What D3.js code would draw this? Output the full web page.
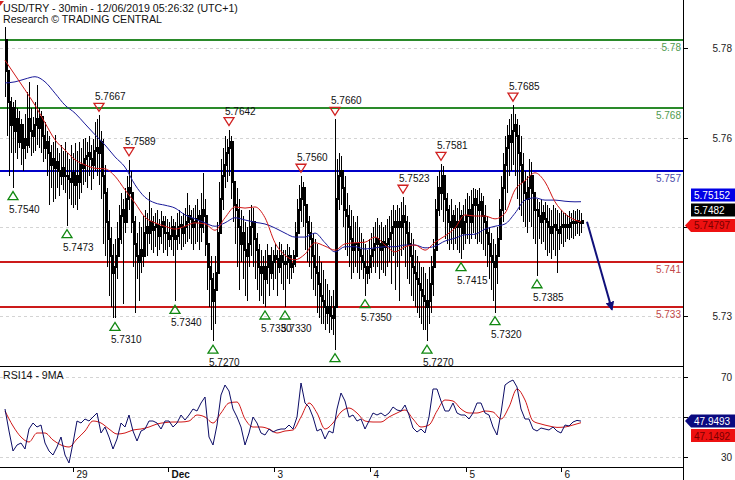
<!DOCTYPE html>
<html><head><meta charset="utf-8">
<script src="https://cdn.jsdelivr.net/npm/d3@7"></script>
<style>
body{margin:0;background:#fff}
svg{display:block}
text{font-family:"Liberation Sans",Arial,sans-serif}
</style>
</head><body>
<svg id="c" width="735" height="480"></svg>
<script>
// ---------------- DATA ----------------
const title = "USD/TRY - 30min - 12/06/2019 05:26:32 (UTC+1)";
const subtitle = "Research \u00A9 TRADING CENTRAL";
const rsiTitle = "RSI14 - 9MA";

const opens = [
5.7800,5.7745,5.7690,5.7650,5.7680, 5.7640,5.7660,5.7620,5.7650,5.7610,
5.7625,5.7615,5.7660,5.7640,5.7630, 5.7650,5.7660,5.7645,5.7665,5.7630,
5.7610,5.7620,5.7600,5.7580,5.7590, 5.7575,5.7585,5.7570,5.7560,5.7575,
5.7560,5.7560,5.7555,5.7550,5.7565, 5.7545,5.7560,5.7550,5.7580,5.7575,
5.7590,5.7595,5.7600,5.7590,5.7580, 5.7605,5.7610,5.7600,5.7620,5.7560,
5.7530,5.7480,5.7450,5.7420,5.7390, 5.7400,5.7420,5.7450,5.7490,5.7500,
5.7480,5.7520,5.7540,5.7530,5.7480, 5.7440,5.7420,5.7410,5.7430,5.7420,
5.7460,5.7470,5.7460,5.7480,5.7465, 5.7470,5.7475,5.7455,5.7470,5.7480,
5.7460,5.7460,5.7450,5.7455,5.7470, 5.7450,5.7455,5.7470,5.7475,5.7460,
5.7470,5.7480,5.7490,5.7485,5.7470, 5.7480,5.7485,5.7490,5.7470,5.7500,
5.7490,5.7440,5.7400,5.7380,5.7340, 5.7360,5.7390,5.7460,5.7520,5.7560,
5.7580,5.7600,5.7610,5.7620,5.7550, 5.7510,5.7500,5.7470,5.7440,5.7460,
5.7430,5.7420,5.7440,5.7470,5.7480, 5.7450,5.7430,5.7400,5.7390,5.7400,
5.7380,5.7400,5.7420,5.7390,5.7410, 5.7420,5.7415,5.7400,5.7420,5.7410,
5.7405,5.7410,5.7420,5.7400,5.7405, 5.7420,5.7460,5.7500,5.7520,5.7540,
5.7510,5.7480,5.7460,5.7450,5.7420, 5.7400,5.7390,5.7370,5.7350,5.7340,
5.7330,5.7320,5.7330,5.7315,5.7310, 5.7330,5.7520,5.7560,5.7570,5.7540,
5.7500,5.7490,5.7470,5.7450,5.7430, 5.7440,5.7440,5.7430,5.7420,5.7410,
5.7400,5.7390,5.7400,5.7420,5.7430, 5.7440,5.7450,5.7440,5.7430,5.7445,
5.7435,5.7440,5.7450,5.7460,5.7470, 5.7480,5.7470,5.7480,5.7470,5.7490,
5.7480,5.7460,5.7440,5.7420,5.7400, 5.7390,5.7380,5.7370,5.7360,5.7350,
5.7340,5.7330,5.7340,5.7370,5.7400, 5.7430,5.7500,5.7540,5.7530,5.7560,
5.7520,5.7500,5.7480,5.7470,5.7490, 5.7470,5.7480,5.7470,5.7490,5.7460,
5.7480,5.7490,5.7500,5.7480,5.7510, 5.7520,5.7510,5.7500,5.7515,5.7490,
5.7480,5.7460,5.7440,5.7420,5.7410, 5.7400,5.7420,5.7450,5.7500,5.7540,
5.7580,5.7610,5.7630,5.7620,5.7640, 5.7650,5.7630,5.7600,5.7580,5.7550,
5.7530,5.7520,5.7540,5.7560,5.7530, 5.7500,5.7500,5.7490,5.7480,5.7495,
5.7485,5.7480,5.7470,5.7460,5.7470, 5.7475,5.7465,5.7460,5.7470,5.7475,
5.7470,5.7475,5.7470,5.7478,5.7480, 5.7478,5.7482,5.7480,5.7478];

const highs = [
5.7823,5.7790,5.7720,5.7700,5.7690, 5.7694,5.7680,5.7675,5.7660,5.7650,
5.7670,5.7708,5.7726,5.7680,5.7665, 5.7690,5.7720,5.7680,5.7675,5.7660,
5.7655,5.7640,5.7630,5.7615,5.7620, 5.7632,5.7610,5.7600,5.7615,5.7605,
5.7620,5.7600,5.7590,5.7615,5.7600, 5.7618,5.7605,5.7620,5.7610,5.7625,
5.7628,5.7620,5.7630,5.7615,5.7625, 5.7655,5.7660,5.7667,5.7640,5.7625,
5.7580,5.7540,5.7500,5.7470,5.7440, 5.7450,5.7480,5.7510,5.7530,5.7520,
5.7540,5.7560,5.7589,5.7570,5.7520, 5.7490,5.7460,5.7480,5.7470,5.7490,
5.7500,5.7495,5.7532,5.7505,5.7490, 5.7495,5.7500,5.7485,5.7498,5.7490,
5.7490,5.7485,5.7480,5.7490,5.7485, 5.7480,5.7495,5.7500,5.7490,5.7495,
5.7505,5.7530,5.7510,5.7500,5.7505, 5.7510,5.7520,5.7500,5.7530,5.7566,
5.7520,5.7470,5.7440,5.7420,5.7390, 5.7420,5.7480,5.7550,5.7590,5.7610,
5.7630,5.7625,5.7642,5.7630,5.7590, 5.7550,5.7540,5.7520,5.7500,5.7490,
5.7480,5.7470,5.7500,5.7510,5.7505, 5.7480,5.7460,5.7440,5.7430,5.7420,
5.7430,5.7440,5.7420,5.7435,5.7430, 5.7440,5.7430,5.7445,5.7440,5.7430,
5.7430,5.7440,5.7435,5.7420,5.7430, 5.7480,5.7520,5.7545,5.7560,5.7550,
5.7535,5.7510,5.7490,5.7480,5.7460, 5.7450,5.7440,5.7420,5.7410,5.7395,
5.7380,5.7370,5.7360,5.7350,5.7360, 5.7660,5.7590,5.7600,5.7595,5.7570,
5.7560,5.7530,5.7510,5.7500,5.7490, 5.7480,5.7490,5.7470,5.7460,5.7450,
5.7440,5.7430,5.7450,5.7460,5.7470, 5.7480,5.7487,5.7475,5.7480,5.7470,
5.7475,5.7485,5.7490,5.7500,5.7510, 5.7500,5.7510,5.7505,5.7515,5.7523,
5.7510,5.7490,5.7480,5.7460,5.7450, 5.7430,5.7420,5.7410,5.7400,5.7400,
5.7390,5.7380,5.7400,5.7420,5.7450, 5.7520,5.7560,5.7570,5.7581,5.7578,
5.7545,5.7530,5.7510,5.7520,5.7500, 5.7510,5.7505,5.7515,5.7500,5.7510,
5.7520,5.7530,5.7525,5.7535,5.7540, 5.7538,5.7535,5.7540,5.7530,5.7525,
5.7510,5.7490,5.7470,5.7460,5.7450, 5.7440,5.7470,5.7520,5.7560,5.7600,
5.7630,5.7650,5.7660,5.7670,5.7685, 5.7670,5.7660,5.7650,5.7630,5.7600,
5.7570,5.7560,5.7590,5.7585,5.7560, 5.7530,5.7520,5.7515,5.7520,5.7510,
5.7515,5.7510,5.7505,5.7500,5.7510, 5.7505,5.7500,5.7495,5.7500,5.7495,
5.7495,5.7492,5.7498,5.7495,5.7500, 5.7498,5.7502,5.7500,5.7495];

const lows = [
5.7700,5.7630,5.7560,5.7600,5.7540, 5.7600,5.7590,5.7610,5.7580,5.7570,
5.7590,5.7600,5.7610,5.7595,5.7600, 5.7605,5.7615,5.7610,5.7600,5.7585,
5.7590,5.7560,5.7510,5.7540,5.7515, 5.7520,5.7540,5.7525,5.7545,5.7535,
5.7530,5.7473,5.7520,5.7510,5.7505, 5.7510,5.7500,5.7520,5.7530,5.7545,
5.7550,5.7540,5.7560,5.7535,5.7555, 5.7570,5.7560,5.7545,5.7520,5.7440,
5.7420,5.7400,5.7350,5.7330,5.7310, 5.7310,5.7380,5.7420,5.7440,5.7335,
5.7460,5.7480,5.7500,5.7460,5.7400, 5.7320,5.7380,5.7340,5.7390,5.7400,
5.7430,5.7420,5.7440,5.7430,5.7425, 5.7435,5.7420,5.7430,5.7440,5.7425,
5.7430,5.7420,5.7435,5.7430,5.7420, 5.7340,5.7430,5.7440,5.7430,5.7435,
5.7440,5.7445,5.7450,5.7440,5.7430, 5.7440,5.7445,5.7430,5.7445,5.7460,
5.7420,5.7360,5.7330,5.7290,5.7270, 5.7300,5.7380,5.7420,5.7470,5.7500,
5.7540,5.7550,5.7560,5.7520,5.7480, 5.7440,5.7400,5.7360,5.7410,5.7380,
5.7350,5.7340,5.7400,5.7420,5.7400, 5.7380,5.7360,5.7340,5.7350,5.7335,
5.7330,5.7370,5.7350,5.7380,5.7360, 5.7380,5.7350,5.7390,5.7370,5.7360,
5.7330,5.7380,5.7370,5.7380,5.7390, 5.7400,5.7430,5.7460,5.7480,5.7470,
5.7430,5.7410,5.7400,5.7380,5.7360, 5.7350,5.7320,5.7310,5.7300,5.7300,
5.7290,5.7300,5.7285,5.7290,5.7280, 5.7255,5.7480,5.7500,5.7510,5.7470,
5.7430,5.7420,5.7400,5.7380,5.7390, 5.7400,5.7390,5.7380,5.7395,5.7380,
5.7350,5.7370,5.7380,5.7390,5.7400, 5.7390,5.7400,5.7380,5.7395,5.7390,
5.7385,5.7400,5.7410,5.7370,5.7420, 5.7360,5.7400,5.7340,5.7420,5.7430,
5.7400,5.7380,5.7370,5.7350,5.7340, 5.7330,5.7320,5.7310,5.7300,5.7290,
5.7290,5.7270,5.7300,5.7320,5.7350, 5.7400,5.7460,5.7490,5.7500,5.7480,
5.7450,5.7440,5.7430,5.7440,5.7430, 5.7440,5.7430,5.7425,5.7415,5.7430,
5.7440,5.7450,5.7440,5.7450,5.7460, 5.7450,5.7440,5.7445,5.7440,5.7430,
5.7420,5.7400,5.7380,5.7360,5.7340, 5.7320,5.7370,5.7420,5.7450,5.7480,
5.7500,5.7530,5.7560,5.7570,5.7580, 5.7560,5.7520,5.7500,5.7490,5.7480,
5.7470,5.7460,5.7480,5.7470,5.7450, 5.7440,5.7385,5.7450,5.7440,5.7445,
5.7430,5.7420,5.7425,5.7415,5.7430, 5.7420,5.7390,5.7430,5.7440,5.7435,
5.7445,5.7450,5.7448,5.7452,5.7450, 5.7455,5.7458,5.7455,5.7460];

const closes = [
5.7745,5.7690,5.7650,5.7680,5.7640, 5.7660,5.7620,5.7650,5.7610,5.7625,
5.7615,5.7660,5.7640,5.7630,5.7650, 5.7660,5.7645,5.7665,5.7630,5.7610,
5.7620,5.7600,5.7580,5.7590,5.7575, 5.7585,5.7570,5.7560,5.7575,5.7560,
5.7560,5.7555,5.7550,5.7565,5.7545, 5.7560,5.7550,5.7580,5.7575,5.7590,
5.7595,5.7600,5.7590,5.7580,5.7605, 5.7610,5.7600,5.7620,5.7560,5.7530,
5.7480,5.7450,5.7420,5.7390,5.7400, 5.7420,5.7450,5.7490,5.7500,5.7480,
5.7520,5.7540,5.7530,5.7480,5.7440, 5.7420,5.7410,5.7430,5.7420,5.7460,
5.7470,5.7460,5.7480,5.7465,5.7470, 5.7475,5.7455,5.7470,5.7480,5.7460,
5.7460,5.7450,5.7455,5.7470,5.7450, 5.7455,5.7470,5.7475,5.7460,5.7470,
5.7480,5.7490,5.7485,5.7470,5.7480, 5.7485,5.7490,5.7470,5.7500,5.7490,
5.7440,5.7400,5.7380,5.7340,5.7360, 5.7390,5.7460,5.7520,5.7560,5.7580,
5.7600,5.7610,5.7620,5.7550,5.7510, 5.7500,5.7470,5.7440,5.7460,5.7430,
5.7420,5.7440,5.7470,5.7480,5.7450, 5.7430,5.7400,5.7390,5.7400,5.7380,
5.7400,5.7420,5.7390,5.7410,5.7420, 5.7415,5.7400,5.7420,5.7410,5.7405,
5.7410,5.7420,5.7400,5.7405,5.7420, 5.7460,5.7500,5.7520,5.7540,5.7510,
5.7480,5.7460,5.7450,5.7420,5.7400, 5.7390,5.7370,5.7350,5.7340,5.7330,
5.7320,5.7330,5.7315,5.7310,5.7330, 5.7520,5.7560,5.7570,5.7540,5.7500,
5.7490,5.7470,5.7450,5.7430,5.7440, 5.7440,5.7430,5.7420,5.7410,5.7400,
5.7390,5.7400,5.7420,5.7430,5.7440, 5.7450,5.7440,5.7430,5.7445,5.7435,
5.7440,5.7450,5.7460,5.7470,5.7480, 5.7470,5.7480,5.7470,5.7490,5.7480,
5.7460,5.7440,5.7420,5.7400,5.7390, 5.7380,5.7370,5.7360,5.7350,5.7340,
5.7330,5.7340,5.7370,5.7400,5.7430, 5.7500,5.7540,5.7530,5.7560,5.7520,
5.7500,5.7480,5.7470,5.7490,5.7470, 5.7480,5.7470,5.7490,5.7460,5.7480,
5.7490,5.7500,5.7480,5.7510,5.7520, 5.7510,5.7500,5.7515,5.7490,5.7480,
5.7460,5.7440,5.7420,5.7410,5.7400, 5.7420,5.7450,5.7500,5.7540,5.7580,
5.7610,5.7630,5.7620,5.7640,5.7650, 5.7630,5.7600,5.7580,5.7550,5.7530,
5.7520,5.7540,5.7560,5.7530,5.7500, 5.7500,5.7490,5.7480,5.7495,5.7485,
5.7480,5.7470,5.7460,5.7470,5.7475, 5.7465,5.7460,5.7470,5.7475,5.7470,
5.7475,5.7470,5.7478,5.7480,5.7478, 5.7482,5.7480,5.7478,5.7482];

// moving averages, read every 5 bars (last one at the final bar)
const maBars = [...d3.range(0, 286, 5), 288];
const maFast = [5.7764,5.7738,5.7712,5.7685,5.7654,5.7624,5.7606,5.7589,5.7580,5.7574,
5.7573,5.7560,5.7536,5.7513,5.7488,5.7478,5.7472,5.7467,5.7472,5.7478,
5.7476,5.7465,5.7487,5.7506,5.7504,5.7506,5.7487,5.7443,5.7421,5.7413,
5.7423,5.7443,5.7437,5.7430,5.7441,5.7443,5.7444,5.7453,5.7439,5.7427,
5.7436,5.7439,5.7430,5.7444,5.7455,5.7469,5.7492,5.7490,5.7490,5.7485,
5.7495,5.7536,5.7552,5.7566,5.7550,5.7515,5.7494,5.7483,5.74797];
const maSlow = [5.7724,5.7726,5.7731,5.7735,5.7726,5.7706,5.7685,5.7671,5.7652,5.7633,
5.7615,5.7594,5.7576,5.7545,5.7523,5.7513,5.7509,5.7504,5.7492,5.7485,
5.7478,5.7472,5.7478,5.7487,5.7483,5.7479,5.7476,5.7469,5.7460,5.7453,
5.7453,5.7460,5.7443,5.7427,5.7436,5.7436,5.7432,5.7434,5.7436,5.7436,
5.7439,5.7439,5.7434,5.7437,5.7446,5.7451,5.7457,5.7458,5.7467,5.7472,
5.7476,5.7495,5.7518,5.7522,5.7518,5.7518,5.7516,5.7515,5.75152];

// RSI14 every 2 bars, its 9MA every 4 bars
const rsiBars = d3.range(0, 289, 2);
const rsi = [54,43,33,36,37,34,44,47,45,46, 37,33,31,35,40,31,27,37,48,47,
49,48,50,52,42,45,40,34,39,47, 45,51,43,38,43,44,48,48,47,44,
48,48,45,47,51,48.5,51,54,53,57, 60,40,36,46,61,66,63,54,50,45,
36,42,50,47,42,41,44,42.5,43.5,44, 44,46,44,50,67,57,55,50,43,44,
39,43,42,54,62,58,50,51,48,49, 44,48,52,51,52,50.5,52,55,53.5,53,
56,51,44.5,42.5,44,42,50,64,64,58, 53,53,57,52,51,51,49,52,57,57,
52,51,45,41,52,66,67.5,68.5,65,54, 49,49,44,43,44.5,44,43.5,45,43,42,
46,45.5,47.5,48.3,47.9493];
const rsiMaBars = d3.range(0, 289, 4);
const rsiMa = [53,45.5,40,37.5,42,42,38.5,36,35,39, 43,48,47,44,41.5,42,43.5,44,45,46.5,
47.2,47.5,47.5,48,51,50,47,52,57,57.5, 49,45,45,44,42,43,43.5,50,57,52,
44,47,52.5,54.5,52,48,47.5,47.5,50,52, 53.5,49,45,46,53,58.5,58,54,52,52,
53,52.5,49,55,64,58.5,48,46.5,45.5,44.8, 45,46,47.1492];

// support / resistance levels
const levels = [5.78, 5.768, 5.757, 5.741, 5.733];
const levelLabels = ["5.78", "5.768", "5.757", "5.741", "5.733"];
const levelKinds = ["res", "res", "pivot", "sup", "sup"];

// swing marks [bar, price]
const swingHighs = [[47,5.7667],[62,5.7589],[112,5.7642],[148,5.7560],[165,5.7660],[199,5.7523],[218,5.7581],[254,5.7685]];
const swingLows = [[4,5.7540],[31,5.7473],[55,5.7310],[85,5.7340],[104,5.7270],[130,5.7330],[140,5.7330],[165,5.7255],[180,5.7350],[211,5.7270],[228,5.7415],[245,5.7320],[266,5.7385]];

// forecast arrow [bar, price]
const forecast = [[291, 5.7480], [303.5, 5.7325]];

// axes (labels hidden behind the value tags in the source are left blank)
const priceTicks = [5.78, 5.76, 5.75, 5.73];
const priceTickLabels = ["5.78", "5.76", "", "5.73"];
const rsiTicks = [70, 50, 30];
const rsiTickLabels = ["70", "", "30"];
const dayTickBars = [34, 81.5, 134.5, 182.5, 230.5, 278];
const dayTickLabels = ["29", "Dec", "3", "4", "5", "6"];

// ---------------- LAYOUT ----------------
const svg = d3.select("#c");
const axisX = 683, sepY = 366, bottomY = 467;
const C = {res:"#2a8a2a", pivot:"#0000c8", sup:"#cc1a1a"};
const CL = {res:"#4f9a4f", pivot:"#4a4aa8", sup:"#c24848"};

const x = d3.scaleLinear().domain([0, 288]).range([5, 581]);
const y = d3.scaleLinear().domain([5.733, 5.768]).range([307, 108]);
// the printed price axis of the source is offset from the plotted data
const yAxis = d3.scaleLinear().domain([5.73, 5.75, 5.76, 5.78]).range([316, 227, 138, 48]);
const r = d3.scaleLinear().domain([30, 70]).range([457, 377]);

const defs = svg.append("defs");
defs.append("clipPath").attr("id","cp").append("rect").attr("x",0).attr("y",0).attr("width",axisX).attr("height",sepY+1);
defs.append("clipPath").attr("id","cr").append("rect").attr("x",0).attr("y",sepY+1).attr("width",axisX).attr("height",bottomY-sepY-1);
defs.append("marker").attr("id","ah").attr("viewBox","0 0 10 10").attr("refX",9).attr("refY",5)
  .attr("markerWidth",4.5).attr("markerHeight",4.5).attr("orient","auto")
  .append("path").attr("d","M0,0L10,5L0,10z").attr("fill","#10107a");

// grid
const grid = svg.append("g").attr("stroke","#d4d4d4").attr("stroke-dasharray","3,3").attr("shape-rendering","crispEdges");
grid.selectAll("line.p").data(priceTicks).join("line").attr("class","p")
  .attr("x1",0).attr("x2",axisX).attr("y1",d=>Math.round(yAxis(d))+0.5).attr("y2",d=>Math.round(yAxis(d))+0.5);
grid.selectAll("line.r").data(rsiTicks).join("line").attr("class","r")
  .attr("x1",0).attr("x2",axisX).attr("y1",d=>Math.round(r(d))+0.5).attr("y2",d=>Math.round(r(d))+0.5);

// level lines
const lv = svg.append("g");
lv.selectAll("line").data(levels).join("line")
  .attr("x1",0).attr("x2",axisX).attr("y1",d=>Math.round(y(d))).attr("y2",d=>Math.round(y(d)))
  .attr("stroke",(d,i)=>C[levelKinds[i]]).attr("stroke-width",2.2);
lv.selectAll("text").data(levels).join("text")
  .attr("x",681).attr("y",d=>y(d)+11).attr("text-anchor","end").attr("font-size",10)
  .attr("fill",(d,i)=>CL[levelKinds[i]]).text((d,i)=>levelLabels[i]);

// bars
const pg = svg.append("g").attr("clip-path","url(#cp)");
const barsG = pg.append("g").attr("shape-rendering","crispEdges");
const idx = d3.range(highs.length);
barsG.selectAll("line").data(idx).join("line")
  .attr("x1",i=>Math.round(x(i))+0.5).attr("x2",i=>Math.round(x(i))+0.5)
  .attr("y1",i=>y(highs[i])).attr("y2",i=>y(lows[i]))
  .attr("stroke","#000").attr("stroke-width",1);
barsG.selectAll("rect").data(idx).join("rect")
  .attr("x",i=>Math.round(x(i))-0.5).attr("width",3)
  .attr("y",i=>y(Math.max(opens[i],closes[i]))-1)
  .attr("height",i=>Math.max(2, Math.abs(y(opens[i])-y(closes[i]))+2))
  .attr("fill","#000");

// moving averages
const maLine = d3.line().x(d=>x(d[0])).y(d=>y(d[1])).curve(d3.curveMonotoneX);
pg.append("path").datum(maBars.map((b,i)=>[b,maSlow[i]])).attr("d",maLine)
  .attr("fill","none").attr("stroke","#1a1a9a").attr("stroke-width",1);
pg.append("path").datum(maBars.map((b,i)=>[b,maFast[i]])).attr("d",maLine)
  .attr("fill","none").attr("stroke","#d01818").attr("stroke-width",1);

// swing markers
const mk = pg.append("g");
mk.selectAll("path.h").data(swingHighs).join("path").attr("class","h")
  .attr("d",d=>{const cx=x(d[0]), t=y(d[1])-12; return `M${cx-5},${t}L${cx+5},${t}L${cx},${t+8}Z`;})
  .attr("fill","none").attr("stroke","#d02020").attr("stroke-width",1.3);
mk.selectAll("text.h").data(swingHighs).join("text").attr("class","h")
  .attr("x",d=>x(d[0])-4).attr("y",d=>y(d[1])-15).attr("font-size",10).attr("fill","#111")
  .text(d=>d[1].toFixed(4));
mk.selectAll("path.l").data(swingLows).join("path").attr("class","l")
  .attr("d",d=>{const cx=x(d[0]), t=y(d[1])+4; return `M${cx-5},${t+8}L${cx+5},${t+8}L${cx},${t}Z`;})
  .attr("fill","none").attr("stroke","#118811").attr("stroke-width",1.3);
mk.selectAll("text.l").data(swingLows).join("text").attr("class","l")
  .attr("x",d=>x(d[0])-4).attr("y",d=>y(d[1])+25).attr("font-size",10).attr("fill","#111")
  .text(d=>d[1].toFixed(4));

// forecast arrow
svg.append("line").attr("x1",x(forecast[0][0])).attr("y1",y(forecast[0][1]))
  .attr("x2",x(forecast[1][0])).attr("y2",y(forecast[1][1]))
  .attr("stroke","#10107a").attr("stroke-width",2).attr("marker-end","url(#ah)");

// RSI panel
const rg = svg.append("g").attr("clip-path","url(#cr)");
rg.append("path").datum(rsiMaBars.map((b,i)=>[b,rsiMa[i]]))
  .attr("d",d3.line().x(d=>x(d[0])).y(d=>r(d[1])).curve(d3.curveMonotoneX))
  .attr("fill","none").attr("stroke","#d01818").attr("stroke-width",1);
rg.append("path").datum(rsiBars.map((b,i)=>[b,rsi[i]]))
  .attr("d",d3.line().x(d=>x(d[0])).y(d=>r(d[1])))
  .attr("fill","none").attr("stroke","#0c0c66").attr("stroke-width",1);

// frame
const fr = svg.append("g").attr("stroke","#000").attr("shape-rendering","crispEdges");
fr.append("line").attr("x1",axisX+0.5).attr("x2",axisX+0.5).attr("y1",0).attr("y2",480);
fr.append("line").attr("x1",0).attr("x2",axisX).attr("y1",sepY+0.5).attr("y2",sepY+0.5);
fr.append("line").attr("x1",0).attr("x2",axisX).attr("y1",bottomY+0.5).attr("y2",bottomY+0.5);

// axes
function styleAxis(g){
  g.select(".domain").remove();
  g.selectAll(".tick line").attr("stroke","#000");
  g.selectAll("text").attr("font-family","Liberation Sans, Arial, sans-serif").attr("font-size",10).attr("fill","#222");
}
svg.append("g").attr("transform",`translate(${axisX},0)`)
  .call(d3.axisRight(yAxis).tickValues(priceTicks).tickSize(5).tickFormat((d,i)=>priceTickLabels[i]))
  .call(styleAxis).call(g=>g.selectAll("text").attr("text-anchor","end").attr("x",49));
svg.append("g").attr("transform",`translate(${axisX},0)`)
  .call(d3.axisRight(r).tickValues(rsiTicks).tickSize(5).tickFormat((d,i)=>rsiTickLabels[i]))
  .call(styleAxis).call(g=>g.selectAll("text").attr("text-anchor","end").attr("x",49));
svg.append("g").attr("transform",`translate(0,${bottomY})`)
  .call(d3.axisBottom(x).tickValues(dayTickBars).tickSize(5).tickFormat((d,i)=>dayTickLabels[i]))
  .call(styleAxis)
  .call(g=>g.selectAll("text").attr("text-anchor","start").attr("x",3).attr("y",11).attr("dy",0)
    .attr("font-weight",(d,i)=>dayTickLabels[i]==="Dec"?"bold":"normal").attr("fill","#111"));

// last value tags
function tag(cy, bg, fg, arrow, txt){
  const g = svg.append("g");
  const h = 13, x0 = 691, x1 = 735;
  const d = arrow ? `M${axisX+2},${cy}L${x0},${cy-h/2}L${x1},${cy-h/2}L${x1},${cy+h/2}L${x0},${cy+h/2}Z`
                  : `M${x0},${cy-h/2}L${x1},${cy-h/2}L${x1},${cy+h/2}L${x0},${cy+h/2}Z`;
  g.append("path").attr("d",d).attr("fill",bg);
  g.append("text").attr("x",694).attr("y",cy+4).attr("font-size",10).attr("fill",fg).text(txt);
}
const lastClose = closes[closes.length-1];
const lastFast = maFast[maFast.length-1], lastSlow = maSlow[maSlow.length-1];
const redC = y(lastFast)+3.5, blackC = redC-15.5, blueC = blackC-15;
tag(blueC, "#0000e6", "#fff", false, lastSlow.toFixed(5));
tag(blackC, "#000", "#fff", false, lastClose.toFixed(4));
tag(redC, "#ee1111", "#7a0000", true, lastFast.toFixed(5));
const lastRsi = rsi[rsi.length-1], lastRsiMa = rsiMa[rsiMa.length-1];
const navyC = r(lastRsi), rmC = navyC+14.5;
tag(navyC, "#0a0a80", "#fff", true, lastRsi.toFixed(4));
tag(rmC, "#ee1111", "#7a0000", false, lastRsiMa.toFixed(4));

// titles
svg.append("path").attr("d","M0,1L4,1L0,6Z").attr("fill","#d02020");
svg.append("text").attr("x",3).attr("y",12).attr("font-size",10.6).attr("fill","#111").text(title);
svg.append("text").attr("x",3).attr("y",23).attr("font-size",10.6).attr("fill","#111").text(subtitle);
svg.append("text").attr("x",3).attr("y",378.5).attr("font-size",10.6).attr("fill","#111").text(rsiTitle);
</script>
</body></html>
